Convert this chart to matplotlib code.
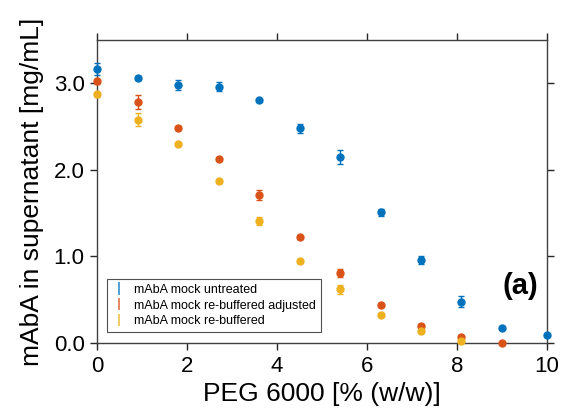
import matplotlib.pyplot as plt

plt.rcParams['font.family'] = ['Liberation Sans', 'DejaVu Sans']

peg = [0, 0.9, 1.8, 2.7, 3.6, 4.5, 5.4, 6.3, 7.2, 8.1, 9.0, 10.0]

untreated = [3.16, 3.06, 2.98, 2.96, 2.80, 2.48, 2.15, 1.51, 0.96, 0.48, 0.18, 0.09]
untreated_err = [0.07, 0.02, 0.06, 0.05, 0.02, 0.05, 0.08, 0.04, 0.05, 0.06, 0.02, 0.02]

adjusted = [3.02, 2.78, 2.48, 2.13, 1.71, 1.22, 0.81, 0.44, 0.20, 0.07, 0.00]
adjusted_err = [0.03, 0.08, 0.02, 0.02, 0.06, 0.02, 0.05, 0.02, 0.02, 0.02, 0.02]

rebuffered = [2.87, 2.58, 2.30, 1.87, 1.41, 0.95, 0.62, 0.33, 0.14, 0.03]
rebuffered_err = [0.03, 0.08, 0.02, 0.02, 0.05, 0.02, 0.05, 0.02, 0.02, 0.02]

labels = ['mAbA mock untreated', 'mAbA mock re-buffered adjusted', 'mAbA mock re-buffered']
colors = ['#0072BD', '#D95319', '#EDB120']

fig = plt.figure(figsize=(5.61, 4.19), dpi=100)
ax = fig.add_axes([0.173, 0.181, 0.802, 0.724])

series = [(untreated, untreated_err), (adjusted, adjusted_err), (rebuffered, rebuffered_err)]
for (vals, errs), c in zip(series, colors):
    xs = peg[:len(vals)]
    ax.errorbar(xs, vals, yerr=errs, fmt='o', color=c, ms=5, elinewidth=1,
                capsize=2.5, capthick=1, clip_on=False, zorder=3)

# legend proxies: error bar only, like in the original
handles = []
for lab, c in zip(labels, colors):
    h = ax.errorbar([], [], yerr=[], fmt='none', ecolor=c, elinewidth=1.2,
                    capsize=3, capthick=1.2, alpha=0.8, label=lab)
    handles.append(h)
leg = ax.legend(handles=handles, loc='lower left', bbox_to_anchor=(0.008, 0.015),
                fontsize=9, frameon=True, fancybox=False, handlelength=1.2,
                borderpad=0.4, labelspacing=0.3, handletextpad=0.6)
leg.get_frame().set_edgecolor('#262626')
leg.get_frame().set_linewidth(0.8)

ax.set_xlim(0, 10)
ax.set_ylim(0, 3.5)
ax.set_xticks([0, 2, 4, 6, 8, 10])
ax.set_yticks([0, 1, 2, 3])
ax.set_yticklabels(['0.0', '1.0', '2.0', '3.0'])

ax.tick_params(direction='out', length=5, width=1, labelsize=16, colors='#262626',
               top=True, right=True, labelcolor='black', pad=4)
for s in ax.spines.values():
    s.set_color('#404040')
    s.set_linewidth(1)

ax.set_xlabel('PEG 6000 [% (w/w)]', fontsize=19, labelpad=4)
ax.set_ylabel('mAbA in supernatant [mg/mL]', fontsize=19, labelpad=7)

ax.text(0.94, 0.19, '(a)', transform=ax.transAxes, fontsize=21, fontweight='bold',
        ha='center', va='center')

fig.savefig('out.png', dpi=100)
